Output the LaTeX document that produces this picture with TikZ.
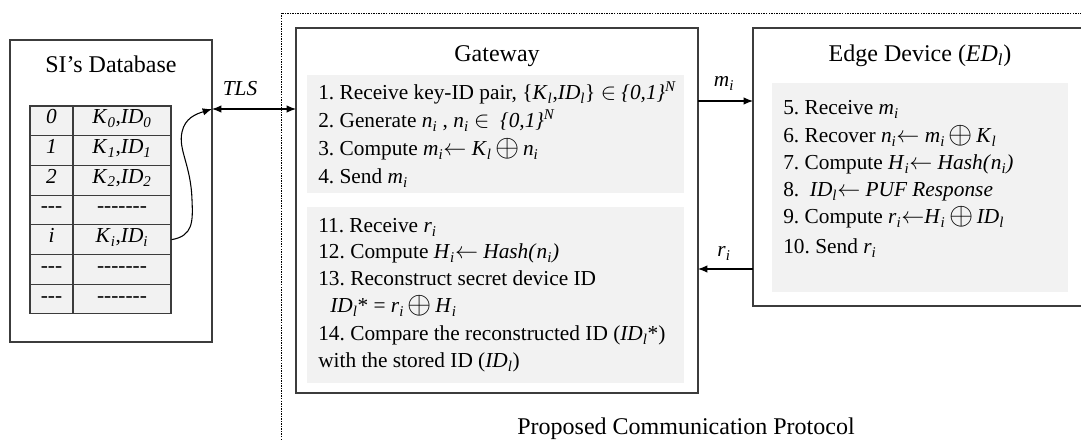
\documentclass[tikz,border=0pt]{standalone}
\usepackage{fontspec}
\setmainfont{Liberation Serif}
\usepackage{graphicx}
\usetikzlibrary{arrows.meta}
\frenchspacing

\definecolor{frame}{HTML}{3C3C3C}
\definecolor{panelgray}{HTML}{F2F2F2}

% italic variable with italic subscript
\newcommand{\iv}[2]{\textit{#1}\textsubscript{\textit{#2}}}
\newcommand{\xr}{\,\raisebox{-0.1ex}{\scalebox{1.35}{$\oplus$}}\,}
\newcommand{\lar}{$\leftarrow$}
% plain hyphen runs, kept from ligating into dashes
\newcommand{\hyp}[1]{\foreach \n in {1,...,#1}{\mbox{-}}}

\begin{document}
\begin{tikzpicture}[x=0.75pt,y=-0.75pt,
  font=\fontsize{16}{19}\selectfont,
  box/.style={draw=frame, line width=0.9pt, fill=white, inner sep=0pt},
  panel/.style={fill=panelgray, inner sep=0pt},
  cell/.style={draw=frame, line width=0.8pt, fill=panelgray, inner sep=0pt,
    minimum height=22.3pt, text height=0.7em, text depth=0.25em},
  txt/.style={anchor=base west, inner sep=0pt, text height=0.72em, text depth=0.18em},
  title/.style={font=\fontsize{18}{21}\selectfont, anchor=base, inner sep=0pt},
  lbl/.style={anchor=base, inner sep=0pt},
  arr/.style={-{Latex[length=7pt,width=5.5pt]}, line width=0.8pt, draw=black},
  arrboth/.style={{Latex[length=7pt,width=5.5pt]}-{Latex[length=7pt,width=5.5pt]}, line width=0.8pt, draw=black}]

\useasboundingbox (0,0) rectangle (1081,441);

% protocol region (dotted frame, open to the right and bottom)
\node[draw=black, line width=0.6pt, dash pattern=on 1.1pt off 0.8pt,
      minimum width=614.25pt, minimum height=335.25pt, inner sep=0pt]
      (proto) at (690.5,236.5) {};

% ---------------- database ----------------
\node[box, minimum width=151.5pt, minimum height=226.5pt] (db) at (111,191) {};
\node[title] (dbtitle) at (111,73) {SI’s Database};

\foreach \k/\a/\b in {0/\textit{0}/{\iv{K}{0},\iv{ID}{0}},
                      1/\textit{1}/{\iv{K}{1},\iv{ID}{1}},
                      2/\textit{2}/{\iv{K}{2},\iv{ID}{2}},
                      3/{\hyp{3}}/{\hyp{7}},
                      4/\textit{i}/{\iv{K}{i},\iv{ID}{i}},
                      5/{\hyp{3}}/{\hyp{7}},
                      6/{\hyp{3}}/{\hyp{7}}}{
  \node[cell, minimum width=32.25pt] (ia\k) at (51.5,{106+29.7*(\k+0.5)}) {\a};
  \node[cell, minimum width=73.5pt]  (ib\k) at (122,{106+29.7*(\k+0.5)}) {\b};
}

% ---------------- gateway ----------------
\node[box, minimum width=301.5pt, minimum height=273.75pt] (gw) at (497,210.5) {};
\node[title] (gwtitle) at (497,62) {Gateway};
\node[panel, minimum width=282.75pt, minimum height=88.5pt] (gwp1) at (495.5,134) {};
\node[panel, minimum width=282.75pt, minimum height=132pt] (gwp2) at (495.5,295) {};

\node[txt] (g1) at (318,100) {1. Receive key-ID pair, \{\iv{K}{l},\iv{ID}{l}\} $\in$ \textit{\{0,1\}}\textsuperscript{\textit{N}}};
\node[txt] (g2) at (318,128) {2. Generate \iv{n}{i} , \iv{n}{i} $\in$ \ \textit{\{0,1\}}\textsuperscript{\textit{N}}};
\node[txt] (g3) at (318,156) {3. Compute \iv{m}{i}\lar\ \iv{K}{l}\xr\iv{n}{i}};
\node[txt] (g4) at (318,184) {4. Send \iv{m}{i}};

\node[txt] (g11) at (318,233) {11. Receive \iv{r}{i}};
\node[txt] (g12) at (318,259) {12. Compute \iv{H}{i}\lar\ \textit{Hash(}\iv{n}{i}\textit{)}};
\node[txt] (g13) at (318,286) {13. Reconstruct secret device ID};
\node[txt] (g13b) at (330,313) {\iv{ID}{l}* = \iv{r}{i}\xr\iv{H}{i}};
\node[txt] (g14) at (318,341) {14. Compare the reconstructed ID (\iv{ID}{l}*)};
\node[txt] (g14b) at (318,368) {with the stored ID (\iv{ID}{l})};

% ---------------- edge device ----------------
\node[box, minimum width=252.75pt, minimum height=208.5pt] (ed) at (921.5,167) {};
\node[title] (edtitle) at (920,62) {Edge Device (\iv{ED}{l})};
\node[panel, minimum width=222pt, minimum height=156.75pt] (edp) at (920,187.5) {};

\node[txt] (e5)  at (783,115) {5. Receive \iv{m}{i}};
\node[txt] (e6)  at (783,143) {6. Recover \iv{n}{i}\lar\ \iv{m}{i}\xr\iv{K}{l}};
\node[txt] (e7)  at (783,170) {7. Compute \iv{H}{i}\lar\ \textit{Hash(}\iv{n}{i}\textit{)}};
\node[txt] (e8)  at (783,197) {8. \ \iv{ID}{l}\lar\ \textit{PUF Response}};
\node[txt] (e9)  at (783,224) {9. Compute \iv{r}{i}\lar\iv{H}{i}\xr\iv{ID}{l}};
\node[txt] (e10) at (783,254) {10. Send \iv{r}{i}};

% ---------------- connectors ----------------
\coordinate (dbT) at (212,109);
\coordinate (gwT) at (296,109);
\draw[arrboth] (dbT) -- (gwT);
\node[lbl] (tls) at (240,96) {\textit{TLS}};

\draw[arr] (ib4.east) .. controls (193,236) and (193,222) .. (192,200)
                      .. controls (191,165) and (178,150) .. (182,132)
                      .. controls (185,118) and (196,114) .. (dbT);

\coordinate (gwM) at (698,101);
\coordinate (edM) at (753,101);
\draw[arr] (gwM) -- (edM);
\node[lbl] (mlbl) at (724,87) {\iv{m}{i}};

\coordinate (edR) at (753,269);
\coordinate (gwR) at (698,269);
\draw[arr] (edR) -- (gwR);
\node[lbl] (rlbl) at (724,257) {\iv{r}{i}};

\node[title] (caption) at (686,434) {Proposed Communication Protocol};
\end{tikzpicture}
\end{document}
